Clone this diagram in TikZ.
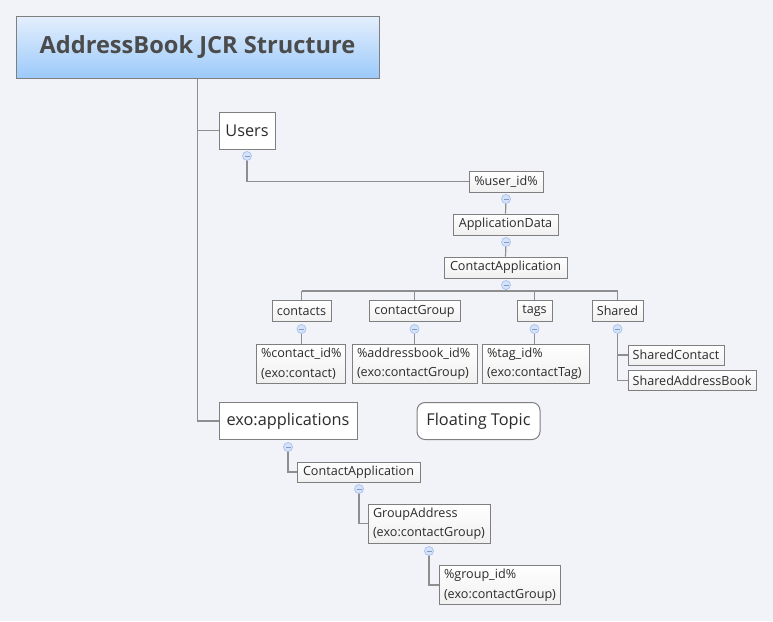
\documentclass[tikz,border=0pt]{standalone}
\usepackage{fontspec}
\setmainfont{Open Sans}
\usetikzlibrary{positioning}
\definecolor{bgcol}{HTML}{F2F3F9}
\definecolor{linecol}{HTML}{8E8E8E}
\definecolor{boxcol}{HTML}{7F7F7F}
\definecolor{txtcol}{HTML}{2B2B2B}
\definecolor{titletop}{HTML}{E4EFFD}
\definecolor{titlebot}{HTML}{9CCAFA}
\definecolor{knobfill}{HTML}{D5E3FA}
\definecolor{knobline}{HTML}{A6C1EC}
\tikzstyle{title}=[draw=boxcol,line width=1pt,top color=titletop,bottom color=titlebot,text=txtcol!85,font=\fontsize{23.6}{26}\selectfont\bfseries,minimum width=363,minimum height=62,inner sep=0pt]
\tikzstyle{branch}=[draw=boxcol,line width=1pt,fill=white,text=txtcol,font=\fontsize{16.3}{19}\selectfont,minimum height=37,inner sep=0pt]
\tikzstyle{topic}=[draw=boxcol,line width=0.8pt,top color=white,bottom color=black!6,text=txtcol,font=\fontsize{12.6}{19.5}\selectfont,minimum height=21,inner sep=0pt]
\tikzstyle{pair}=[topic,align=left,minimum height=39,inner xsep=5pt]
\tikzstyle{floater}=[branch,rounded corners=8]
\tikzstyle{knob}=[circle,draw=knobline,fill=knobfill,line width=0.7pt,minimum size=9,inner sep=0pt,
  path picture={\draw[knobline!80!black,line width=0.8pt] ([xshift=-2.5]path picture bounding box.center) -- ([xshift=2.5]path picture bounding box.center);}]
\tikzstyle{link}=[draw=linecol,line width=1.2pt]

\begin{document}
\begin{tikzpicture}[x=1pt,y=-1pt]
    \useasboundingbox[fill=bgcol] (0,0) rectangle (773,621);
    % Root and first-level topics
    \node[title] (title) at (197.5,47) {AddressBook JCR Structure};
    \node[branch,minimum width=56] (users) at (247,130.5) {Users};
    \node[branch,minimum width=138] (exoapps) at (288,421) {exo:applications};
    \node[floater,minimum width=123] (floating) at (478.5,421) {Floating Topic};
    % Users subtree
    \node[topic,minimum width=74] (userid) at (506,181.5) {\%user\_id\%};
    \node[topic,minimum width=105] (appdata) at (505.5,224.5) {ApplicationData};
    \node[topic,minimum width=123] (contactapp) at (505.5,267.5) {ContactApplication};
    \foreach \pos/\name/\bw/\txt in {{(301.5,311)/contacts/59/contacts}, {(414.5,311)/contactgroup/91/contactGroup},
        {(534.5,311)/tags/35/tags}, {(617.5,311)/shared/51/Shared}}
        \node[topic,minimum width=\bw] (\name) at \pos {\txt};
    \foreach \pos/\name/\tw/\txt in {{(300.5,363.5)/contactid/79pt/{\%contact\_id\%\\(exo:contact)}},
        {(414.5,363.5)/addrbookid/115pt/{\%addressbook\_id\%\\(exo:contactGroup)}},
        {(535.5,363.5)/tagid/97pt/{\%tag\_id\%\\(exo:contactTag)}}}
        \node[pair,text width=\tw] (\name) at \pos {\txt};
    \node[topic,minimum width=96,minimum height=20] (sharedcontact) at (676,355) {SharedContact};
    \node[topic,minimum width=128,minimum height=20] (sharedaddrbook) at (692,380.5) {SharedAddressBook};
    % exo:applications subtree
    \node[topic,minimum width=123,minimum height=20] (contactapp2) at (358.5,472) {ContactApplication};
    \node[pair,text width=112pt] (groupaddr) at (429,523.5) {GroupAddress\\(exo:contactGroup)};
    \node[pair,text width=111pt] (groupid) at (499.5,585) {\%group\_id\%\\(exo:contactGroup)};
    % Collapse knobs
    \foreach \pos/\name in {{(247,156)/kusers}, {(506,199)/kuserid}, {(506,242)/kappdata}, {(506,285)/kcapp},
        {(301.5,329)/kcontacts}, {(414.5,329)/kcgroup}, {(534.5,329)/ktags}, {(617.5,329)/kshared},
        {(288,447)/kexoapps}, {(359,489)/kcapptwo}, {(429,551)/kgaddr}}
        \path \pos coordinate (\name);
    \path (506,291) coordinate (hub);
    % Connectors
    \path[link] (title.south) |- (exoapps.west);
    \path[link] (title.south |- users.west) -- (users.west);
    \path[link] (kusers) |- (userid.west);
    \foreach \source/\dest in {kuserid/appdata, kappdata/contactapp}
        \path[link] (\source) -- (\dest.north);
    \path[link] (kcapp) -- (hub);
    \path[link] (hub -| contacts) -- (hub -| shared);
    \foreach \dest in {contacts, contactgroup, tags, shared}
        \path[link] (hub -| \dest) -- (\dest.north);
    \foreach \source/\dest in {kcontacts/contactid, kcgroup/addrbookid, ktags/tagid}
        \path[link] (\source) -- (\source |- \dest.north);
    \foreach \dest in {sharedcontact, sharedaddrbook}
        \path[link] (kshared) |- (\dest.west);
    \foreach \source/\dest in {kexoapps/contactapp2, kcapptwo/groupaddr, kgaddr/groupid}
        \path[link] (\source) |- (\dest.west);
    % Knobs on top
    \foreach \name in {kusers, kuserid, kappdata, kcapp, kcontacts, kcgroup, ktags, kshared, kexoapps, kcapptwo, kgaddr}
        \node[knob] at (\name) {};
\end{tikzpicture}
\end{document}
